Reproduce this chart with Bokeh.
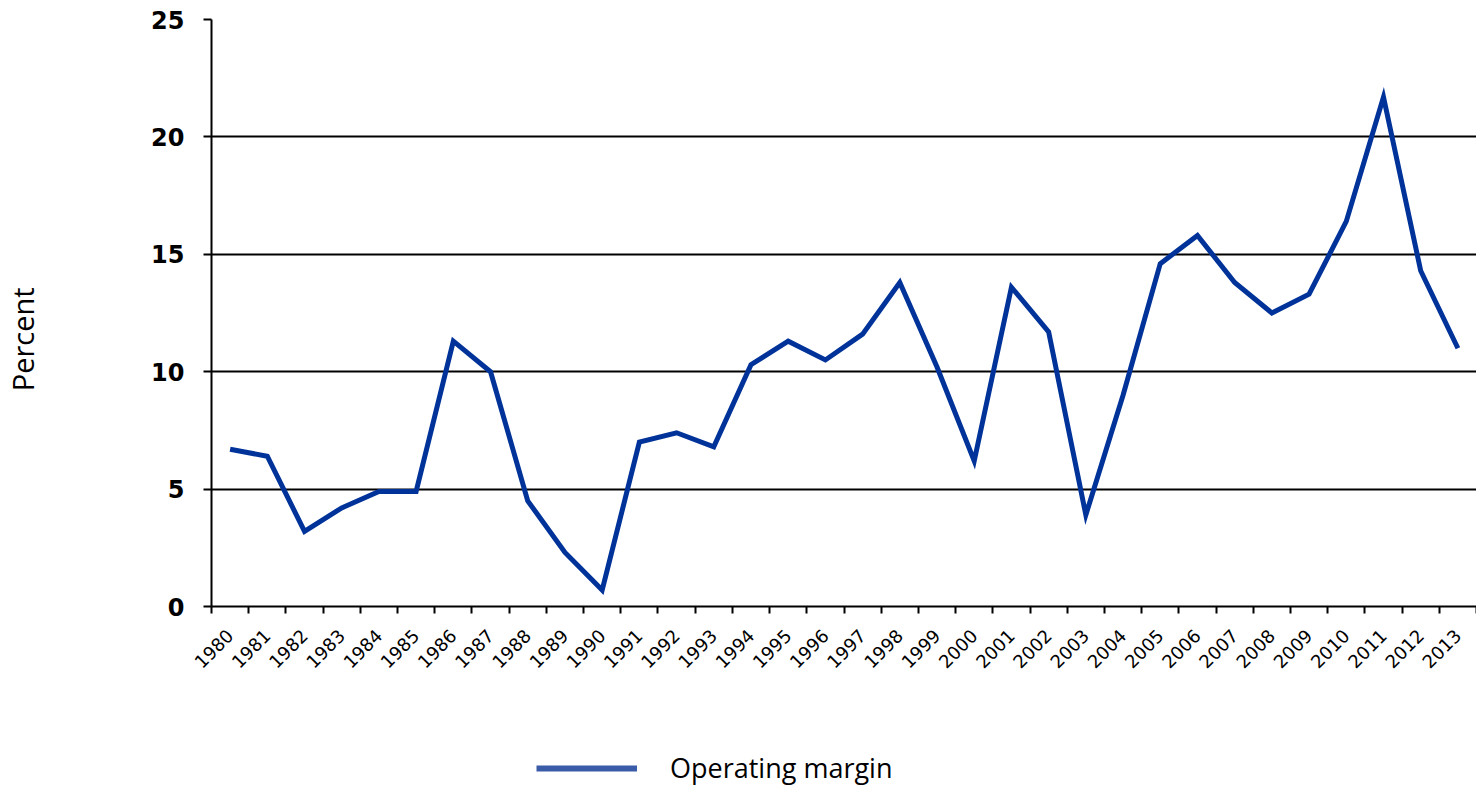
from bokeh.plotting import figure
from bokeh.models import Range1d, FixedTicker, Legend, LegendItem, ColumnDataSource
from bokeh.layouts import column
from bokeh.embed import file_html
from bokeh.resources import INLINE
import math

years = [str(y) for y in range(1980, 2014)]
operating_margin = [6.7, 6.4, 3.2, 4.2, 4.9, 4.9, 11.3, 10.0, 4.5, 2.3,
                    0.7, 7.0, 7.4, 6.8, 10.3, 11.3, 10.5, 11.6, 13.8, 10.2,
                    6.2, 13.6, 11.7, 3.9, 9.0, 14.6, 15.8, 13.8, 12.5, 13.3,
                    16.4, 21.7, 14.3, 11.0]
y_ticks = [0, 5, 10, 15, 20, 25]

n = len(years)
xpos = [i + 0.5 for i in range(n)]

W = 1476

p = figure(width=W, height=700, output_backend="svg", toolbar_location=None,
           x_range=Range1d(0, n), y_range=Range1d(0, 25),
           min_border_left=211, min_border_top=19, min_border_bottom=94,
           min_border_right=0)
p.outline_line_color = None
p.background_fill_color = "white"
p.border_fill_color = "white"

src = ColumnDataSource(dict(x=xpos, y=operating_margin))
p.line("x", "y", source=src, line_color="#003399", line_width=5, line_join="miter")

# x axis
xa = p.xaxis[0]
xa.ticker = FixedTicker(ticks=xpos, minor_ticks=list(range(n + 1)))
xa.major_label_overrides = {xp: yr for xp, yr in zip(xpos, years)}
xa.major_tick_line_color = None
xa.minor_tick_line_color = "black"
xa.minor_tick_line_width = 2
xa.minor_tick_out = 7
xa.minor_tick_in = 0
xa.axis_line_color = "black"
xa.axis_line_width = 2
xa.major_label_orientation = math.pi / 4
xa.major_label_text_font = "DejaVu Sans"
xa.major_label_text_font_size = "18px"
xa.major_label_text_color = "black"
xa.major_label_standoff = 19

# y axis
ya = p.yaxis[0]
ya.ticker = FixedTicker(ticks=y_ticks)
ya.minor_tick_line_color = None
ya.major_tick_line_color = "black"
ya.major_tick_line_width = 2
ya.major_tick_out = 8
ya.major_tick_in = 0
ya.axis_line_color = "black"
ya.axis_line_width = 2
ya.major_label_text_font = "DejaVu Sans"
ya.major_label_text_font_style = "bold"
ya.major_label_text_font_size = "24px"
ya.major_label_text_color = "black"
ya.major_label_standoff = 19
ya.axis_label = "Percent" + "\u00a0" * 7
ya.axis_label_text_font = "Open Sans"
ya.axis_label_text_font_style = "normal"
ya.axis_label_text_font_size = "29px"
ya.axis_label_text_color = "black"
ya.axis_label_standoff = 106

p.xgrid.grid_line_color = None
p.ygrid.ticker = FixedTicker(ticks=y_ticks)
p.ygrid.grid_line_color = "black"
p.ygrid.grid_line_width = 2
p.ygrid.grid_line_alpha = 1.0

# legend strip below the chart
p2 = figure(width=W, height=86, output_backend="svg", toolbar_location=None,
            x_range=Range1d(0, 1), y_range=Range1d(0, 1),
            x_axis_type=None, y_axis_type=None,
            min_border_left=0, min_border_right=0, min_border_top=0, min_border_bottom=0)
p2.outline_line_color = None
p2.xgrid.grid_line_color = None
p2.ygrid.grid_line_color = None
leg_src = ColumnDataSource(dict(x=[float("nan")], y=[float("nan")]))
leg_r = p2.line("x", "y", source=leg_src, line_color="#3A5BA8", line_width=6)
legend = Legend(items=[LegendItem(label="Operating margin", renderers=[leg_r])],
                location=(325, 0), orientation="horizontal",
                glyph_width=101, glyph_height=20, label_height=20, label_standoff=33,
                label_text_font="Open Sans", label_text_font_size="27px",
                label_text_color="black", padding=0, margin=0,
                border_line_color=None, background_fill_alpha=0)
p2.add_layout(legend, "center")

layout = column(p, p2, spacing=0)
open("out.html", "w").write(file_html(layout, INLINE))
